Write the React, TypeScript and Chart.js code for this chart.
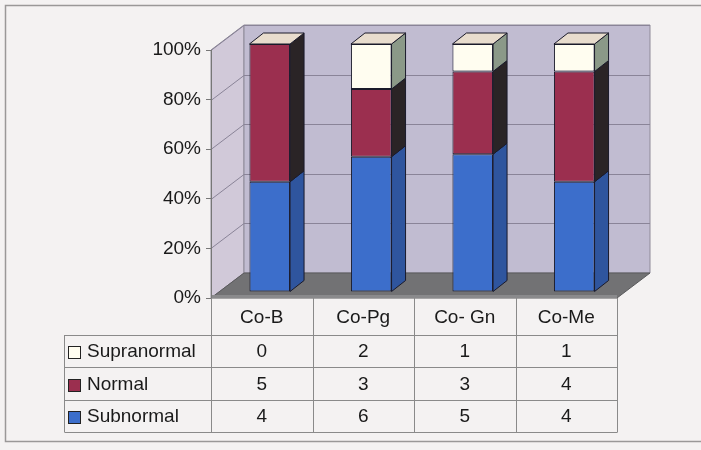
import React, { useEffect, useRef } from 'react';
import { Chart, registerables } from 'chart.js';

Chart.register(...registerables);

// ---- data ----
const categories = ['Co-B', 'Co-Pg', 'Co- Gn', 'Co-Me'];
const seriesNames = ['Subnormal', 'Normal', 'Supranormal'];
const subnormal = [4, 6, 5, 4];
const normal = [5, 3, 3, 4];
const supranormal = [0, 2, 1, 1];
const yTickStep = 20;

// ---- style ----
const FONT = "'Liberation Sans', Arial, sans-serif";
const frontColors = ['#3c6ecb', '#9b2f4f', '#fffdf0'];
const sideColors = ['#2f559e', '#2a2426', '#8b9988'];
const topColor = '#e8dccd';
const WALL = { x: 33, y: -25 };
const BAR_SHIFT = { x: 8, y: -6 };
const BAR_DEPTH = { x: 14, y: -11 };

const series = [subnormal, normal, supranormal];
const totals = categories.map((_, i) => series.reduce((s, arr) => s + arr[i], 0));
const percent = (arr: number[]) => arr.map((v, i) => (totals[i] ? (v / totals[i]) * 100 : 0));

const poly = (ctx: CanvasRenderingContext2D, pts: number[][], fill: string, stroke?: string) => {
  ctx.beginPath();
  ctx.moveTo(pts[0][0], pts[0][1]);
  for (let i = 1; i < pts.length; i++) ctx.lineTo(pts[i][0], pts[i][1]);
  ctx.closePath();
  ctx.fillStyle = fill;
  ctx.fill();
  if (stroke) {
    ctx.strokeStyle = stroke;
    ctx.lineWidth = 1;
    ctx.stroke();
  }
};

const scenePlugin = {
  id: 'scene3d',
  beforeDraw(chart: any) {
    const ctx: CanvasRenderingContext2D = chart.ctx;
    const ca = chart.chartArea;
    const ys = chart.scales.y;
    ctx.save();
    ctx.fillStyle = '#f4f2f2';
    ctx.fillRect(0, 0, chart.width, chart.height);
    // frame
    ctx.strokeStyle = '#9a9898';
    ctx.lineWidth = 1.5;
    ctx.beginPath();
    ctx.moveTo(chart.width + 5, 5.5);
    ctx.lineTo(5.5, 5.5);
    ctx.lineTo(5.5, 441.5);
    ctx.lineTo(chart.width + 5, 441.5);
    ctx.stroke();

    const L = ca.left, R = ca.right, T = ca.top, B = ca.bottom;
    // left wall
    poly(ctx, [[L, T], [L + WALL.x, T + WALL.y], [L + WALL.x, B + WALL.y], [L, B]], '#d1c9d9', '#8e8a98');
    // back wall
    poly(ctx, [[L + WALL.x, T + WALL.y], [R + WALL.x, T + WALL.y], [R + WALL.x, B + WALL.y], [L + WALL.x, B + WALL.y]], '#c1bcd1', '#8e8a98');
    // gridlines
    ctx.strokeStyle = '#8a8498';
    ctx.lineWidth = 1;
    for (let v = 0; v <= 100; v += yTickStep) {
      const y = Math.round(ys.getPixelForValue(v)) + 0.5;
      ctx.beginPath();
      ctx.moveTo(L, y);
      ctx.lineTo(L + WALL.x, y + WALL.y);
      ctx.lineTo(R + WALL.x, y + WALL.y);
      ctx.stroke();
    }
    // floor
    poly(ctx, [[L, B], [R, B], [R + WALL.x, B + WALL.y], [L + WALL.x, B + WALL.y]], '#727274', '#5a5a5c');
    ctx.fillStyle = '#8a8a8c';
    ctx.fillRect(L, B - 3, R - L, 3);
    ctx.restore();
  },
  beforeDatasetsDraw(chart: any) {
    chart.ctx.save();
    chart.ctx.translate(BAR_SHIFT.x, BAR_SHIFT.y);
  },
  afterDatasetsDraw(chart: any) {
    const ctx: CanvasRenderingContext2D = chart.ctx;
    const n = chart.data.datasets.length;
    for (let d = 0; d < n; d++) {
      const meta = chart.getDatasetMeta(d);
      meta.data.forEach((el: any) => {
        const p = el.getProps(['x', 'y', 'base', 'width'], true);
        const l = p.x - p.width / 2, r = p.x + p.width / 2;
        const top = Math.min(p.y, p.base), bot = Math.max(p.y, p.base);
        if (bot - top > 0.5) {
          poly(ctx, [[r, top], [r + BAR_DEPTH.x, top + BAR_DEPTH.y], [r + BAR_DEPTH.x, bot + BAR_DEPTH.y], [r, bot]], sideColors[d], '#1a1a2a');
        }
        if (d === n - 1) {
          poly(ctx, [[l, top], [l + BAR_DEPTH.x, top + BAR_DEPTH.y], [r + BAR_DEPTH.x, top + BAR_DEPTH.y], [r, top]], topColor, '#1a1a2a');
        }
      });
    }
    ctx.restore();
  },
  afterDraw(chart: any) {
    const ctx: CanvasRenderingContext2D = chart.ctx;
    const ca = chart.chartArea;
    const xs = chart.scales.x;
    const colW = (ca.right - ca.left) / categories.length;
    const headerBottom = ca.bottom + 37;
    const rowH = 32.4;
    const rows = [
      { name: seriesNames[2], vals: supranormal, color: frontColors[2] },
      { name: seriesNames[1], vals: normal, color: frontColors[1] },
      { name: seriesNames[0], vals: subnormal, color: frontColors[0] },
    ];
    const tableLeft = 64.5;
    const tableBottom = headerBottom + rows.length * rowH;
    ctx.save();
    ctx.strokeStyle = '#8a8a8a';
    ctx.lineWidth = 1;
    for (let i = 0; i <= categories.length; i++) {
      const x = Math.round(ca.left + i * colW) + 0.5;
      ctx.beginPath();
      ctx.moveTo(x, ca.bottom);
      ctx.lineTo(x, tableBottom);
      ctx.stroke();
    }
    ctx.beginPath();
    ctx.moveTo(tableLeft, headerBottom);
    ctx.lineTo(tableLeft, tableBottom);
    ctx.stroke();
    for (let r = 0; r <= rows.length; r++) {
      const y = Math.round(headerBottom + r * rowH) + 0.5;
      ctx.beginPath();
      ctx.moveTo(tableLeft, y);
      ctx.lineTo(Math.round(ca.right) + 0.5, y);
      ctx.stroke();
    }
    ctx.fillStyle = '#1a1a1a';
    ctx.font = `19px ${FONT}`;
    ctx.textAlign = 'center';
    ctx.textBaseline = 'middle';
    categories.forEach((c, i) => {
      ctx.fillText(c, xs.getPixelForValue(i), (ca.bottom + headerBottom) / 2 + 1);
    });
    rows.forEach((row, r) => {
      const yc = headerBottom + (r + 0.5) * rowH + 1;
      ctx.textAlign = 'center';
      ctx.fillStyle = '#1a1a1a';
      row.vals.forEach((v, i) => ctx.fillText(String(v), xs.getPixelForValue(i), yc));
      ctx.fillStyle = row.color;
      const ky = Math.round(yc - 6) + 0.5;
      ctx.fillRect(68.5, ky, 12, 12);
      ctx.strokeStyle = '#222';
      ctx.strokeRect(68.5, ky, 12, 12);
      ctx.textAlign = 'left';
      ctx.fillStyle = '#1a1a1a';
      ctx.fillText(row.name, 87, yc);
    });
    ctx.restore();
  },
};

export default function App() {
  const ref = useRef<HTMLCanvasElement>(null);
  useEffect(() => {
    const datasets = series.map((arr, d) => ({
      label: seriesNames[d],
      data: percent(arr),
      backgroundColor: frontColors[d],
      borderColor: '#1a1a2a',
      borderWidth: 1,
      borderSkipped: false as const,
      barPercentage: 0.8,
      categoryPercentage: 0.5,
      clip: false as const,
    }));
    const chart = new Chart(ref.current!, {
      type: 'bar',
      data: { labels: categories, datasets },
      plugins: [scenePlugin],
      options: {
        responsive: false,
        animation: false,
        layout: { padding: { left: 0, right: 84, top: 50, bottom: 152 } },
        plugins: { legend: { display: false }, tooltip: { enabled: false } },
        scales: {
          x: { stacked: true, display: false },
          y: {
            stacked: true,
            min: 0,
            max: 100,
            afterFit: (s: any) => { s.width = 211; },
            ticks: {
              stepSize: yTickStep,
              padding: 5,
              color: '#1a1a1a',
              font: { family: FONT, size: 19 },
              callback: (v: any) => `${v}%`,
            },
            grid: { drawOnChartArea: false, drawTicks: true, tickLength: 5, color: '#777' },
            border: { display: true, color: '#777' },
          },
        },
      },
    });
    return () => chart.destroy();
  }, []);
  return (
    <div style={{ position: 'fixed', left: 0, top: 0, width: 701, height: 450 }}>
      <canvas ref={ref} width={701} height={450} style={{ display: 'block', width: 701, height: 450 }} />
    </div>
  );
}
